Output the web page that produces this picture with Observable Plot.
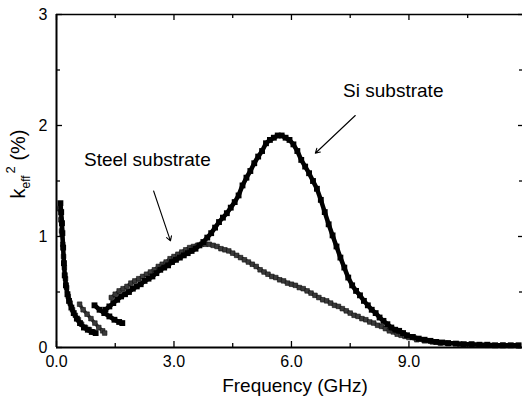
<!DOCTYPE html>
<html>
<head>
<meta charset="utf-8">
<script src="https://cdn.jsdelivr.net/npm/d3@7"></script>
<script src="https://cdn.jsdelivr.net/npm/@observablehq/plot@0.6"></script>
<style>
  html, body { margin: 0; padding: 0; background: #fff; }
  #chart { width: 522px; height: 401px; overflow: hidden; }
</style>
</head>
<body>
<div id="chart"></div>
<script>
// Si substrate: [frequency GHz, k_eff^2 %], branch id
const siFreq = [0.10,0.12,0.14,0.15,0.17,0.19,0.21,0.24,0.28,0.32,0.38,0.44,0.52,0.60,0.70,0.80,0.90,1.00,
  0.97,1.10,1.22,1.35,1.48,1.60,1.68,
  1.25,1.35,1.45,1.55,1.65,1.75,1.85,1.95,2.05,2.15,2.25,2.35,2.45,2.55,2.65,2.75,2.85,2.95,3.05,3.15,3.25,3.35,3.45,3.55,3.65,3.75,3.85,3.95,4.05,4.15,4.25,4.35,4.45,4.55,4.65,4.75,4.85,4.95,5.05,5.15,5.25,5.35,5.45,5.55,5.65,5.75,5.85,5.95,6.05,6.15,6.25,6.35,6.45,6.55,6.65,6.75,6.85,6.95,7.05,7.15,7.25,7.35,7.45,7.55,7.65,7.75,7.85,7.95,8.05,8.15,8.25,8.35,8.45,8.55,8.65,8.75,8.85,8.95,9.10,9.25,9.40,9.55,9.70,9.85,10.0,10.2,10.4,10.6,10.8,11.0,11.2,11.4,11.6,11.8];
const siK = [1.30,1.22,1.12,1.03,0.90,0.76,0.65,0.56,0.48,0.42,0.36,0.31,0.26,0.22,0.18,0.16,0.14,0.13,
  0.38,0.34,0.31,0.28,0.25,0.23,0.22,
  0.34,0.37,0.40,0.43,0.46,0.48,0.50,0.53,0.55,0.57,0.60,0.62,0.64,0.67,0.70,0.72,0.74,0.77,0.79,0.81,0.83,0.85,0.87,0.89,0.92,0.95,0.99,1.03,1.08,1.13,1.17,1.21,1.26,1.31,1.37,1.46,1.53,1.59,1.66,1.72,1.77,1.84,1.87,1.89,1.91,1.91,1.89,1.87,1.83,1.77,1.69,1.63,1.57,1.50,1.43,1.33,1.22,1.11,1.01,0.91,0.81,0.72,0.63,0.56,0.51,0.47,0.42,0.38,0.34,0.31,0.27,0.24,0.21,0.18,0.16,0.15,0.13,0.11,0.095,0.08,0.07,0.06,0.05,0.045,0.04,0.035,0.03,0.03,0.025,0.025,0.02,0.02,0.02,0.02];
const siBranchSizes = [18, 7, 94];

// Steel substrate
const steelFreq = [0.08,0.11,0.13,0.16,0.18,0.20,0.23,0.26,0.30,0.35,0.41,0.48,0.56,0.64,0.74,0.84,0.94,
  0.59,0.68,0.78,0.88,0.98,1.08,1.18,1.23,
  1.40,1.50,1.60,1.70,1.80,1.90,2.00,2.10,2.20,2.30,2.40,2.50,2.60,2.70,2.80,2.90,3.00,3.10,3.20,3.30,3.40,3.50,3.60,3.70,3.80,3.90,4.00,4.10,4.20,4.30,4.40,4.50,4.60,4.70,4.80,4.90,5.00,5.10,5.20,5.30,5.40,5.50,5.60,5.70,5.80,5.90,6.00,6.10,6.20,6.30,6.40,6.50,6.60,6.70,6.80,6.90,7.00,7.10,7.20,7.30,7.40,7.50,7.60,7.70,7.80,7.90,8.00,8.10,8.20,8.30,8.40,8.50,8.60,8.70,8.80,8.90,9.00,9.20,9.40,9.60,9.80,10.0,10.3,10.6,11.0,11.4,11.8];
const steelK = [1.25,1.15,1.05,0.93,0.82,0.72,0.62,0.54,0.46,0.40,0.34,0.29,0.25,0.21,0.18,0.16,0.14,
  0.39,0.34,0.30,0.26,0.22,0.18,0.15,0.13,
  0.45,0.48,0.51,0.53,0.55,0.58,0.60,0.62,0.64,0.66,0.68,0.70,0.73,0.75,0.77,0.80,0.82,0.84,0.86,0.88,0.90,0.91,0.92,0.93,0.93,0.93,0.92,0.91,0.89,0.88,0.87,0.85,0.83,0.81,0.79,0.77,0.75,0.73,0.70,0.68,0.66,0.64,0.63,0.61,0.60,0.58,0.57,0.56,0.54,0.53,0.51,0.49,0.47,0.45,0.43,0.42,0.40,0.38,0.37,0.35,0.33,0.31,0.29,0.28,0.26,0.25,0.23,0.22,0.20,0.19,0.17,0.15,0.14,0.12,0.11,0.10,0.09,0.07,0.06,0.05,0.04,0.035,0.03,0.025,0.02,0.02,0.015];
const steelBranchSizes = [17, 8, 87];

// Ticks
const xMajor = [0, 3, 6, 9];
const xMinor = [1.5, 4.5, 7.5, 10.5];
const yMajor = [0, 1, 2, 3];
const yMinor = [0.5, 1.5, 2.5];
const xDomain = [0, 11.9];
const yDomain = [0, 3];

// Annotations
const labelText = ["Steel substrate", "Si substrate"];
const labelX = [2.32, 8.6];
const labelY = [1.69, 2.31];
const arrowX1 = [2.48, 7.63];
const arrowY1 = [1.41, 2.09];
const arrowX2 = [2.91, 6.61];
const arrowY2 = [0.96, 1.75];

function branchIds(sizes) { return sizes.flatMap((n, b) => Array(n).fill(b)); }
const siB = branchIds(siBranchSizes), steelB = branchIds(steelBranchSizes);
const si = siFreq.map((f, i) => ({f, k: siK[i], b: siB[i]}));
const steel = steelFreq.map((f, i) => ({f, k: steelK[i], b: steelB[i]}));
const labels = labelText.map((t, i) => ({t, x: labelX[i], y: labelY[i]}));
const arrows = arrowX1.map((x1, i) => ({x1, y1: arrowY1[i], x2: arrowX2[i], y2: arrowY2[i]}));

const W = 522, H = 401, mt = 14, mb = 54, ml = 56, mr = 0;
const pw = W - ml - mr, ph = H - mt - mb;

const plot = Plot.plot({
  width: W, height: H,
  marginTop: mt, marginBottom: mb, marginLeft: ml, marginRight: mr,
  x: {domain: xDomain},
  y: {domain: yDomain},
  style: {fontFamily: "'Liberation Sans', Arial, sans-serif", background: "#fff", color: "#000", overflow: "visible"},
  marks: [
    Plot.line(steel, {x: "f", y: "k", z: "b", stroke: "#444", strokeWidth: 3.5, curve: "linear"}),
    Plot.dot(steel, {x: "f", y: "k", symbol: "square", r: 2.6, fill: "#3a3a3a", stroke: "#111", strokeWidth: 0.6}),
    Plot.line(si, {x: "f", y: "k", z: "b", stroke: "#000", strokeWidth: 4.5, curve: "linear"}),
    Plot.dot(si, {x: "f", y: "k", symbol: "square", r: 3.3, fill: "#000"}),
    // frame lines
    Plot.ruleY([yDomain[0]], {stroke: "#000", strokeWidth: 2}),
    Plot.ruleY([yDomain[1]], {stroke: "#000", strokeWidth: 1.5}),
    Plot.ruleX([xDomain[0]], {stroke: "#000", strokeWidth: 2}),
    // ticks (inward)
    Plot.ruleX(xMajor, {insetTop: ph - 6, strokeWidth: 1.3}),
    Plot.ruleX(xMinor, {insetTop: ph - 4, strokeWidth: 1.3}),
    Plot.ruleX(xMajor, {insetBottom: ph - 6, strokeWidth: 1.3}),
    Plot.ruleX(xMinor, {insetBottom: ph - 4, strokeWidth: 1.3}),
    Plot.ruleY(yMajor, {insetRight: pw - 6, strokeWidth: 1.3}),
    Plot.ruleY(yMinor, {insetRight: pw - 4, strokeWidth: 1.3}),
    Plot.ruleY(yMajor, {insetLeft: pw - 4, strokeWidth: 1.3}),
    Plot.ruleY(yMinor, {insetLeft: pw - 3, strokeWidth: 1.3}),
    Plot.axisX(xMajor, {tickSize: 0, tickPadding: 8, tickFormat: d => d.toFixed(1), fontSize: 16, label: null}),
    Plot.axisY(yMajor, {tickSize: 0, tickPadding: 9, tickFormat: d => String(d), fontSize: 16, label: null}),
    // annotations
    Plot.text(labels, {x: "x", y: "y", text: "t", fontSize: 19, fill: "#000"}),
    Plot.arrow(arrows, {x1: "x1", y1: "y1", x2: "x2", y2: "y2", stroke: "#000", strokeWidth: 1.1, headLength: 7, bend: 0})
  ]
});

const svg = d3.select(plot);
svg.append("text")
  .attr("x", 295).attr("y", 392)
  .attr("text-anchor", "middle")
  .attr("font-size", 19)
  .attr("fill", "#000")
  .text("Frequency (GHz)");

const yl = svg.append("text")
  .attr("transform", "translate(25,164) rotate(-90)")
  .attr("text-anchor", "middle")
  .attr("font-size", 20)
  .attr("fill", "#000");
yl.append("tspan").text("k");
yl.append("tspan").attr("font-size", 12).attr("dy", 5).text("eff");
yl.append("tspan").attr("font-size", 13).attr("dy", -15).attr("dx", 2).text("2");
yl.append("tspan").attr("dy", 10).text(" (%)");

document.getElementById("chart").appendChild(plot);
</script>
</body>
</html>
